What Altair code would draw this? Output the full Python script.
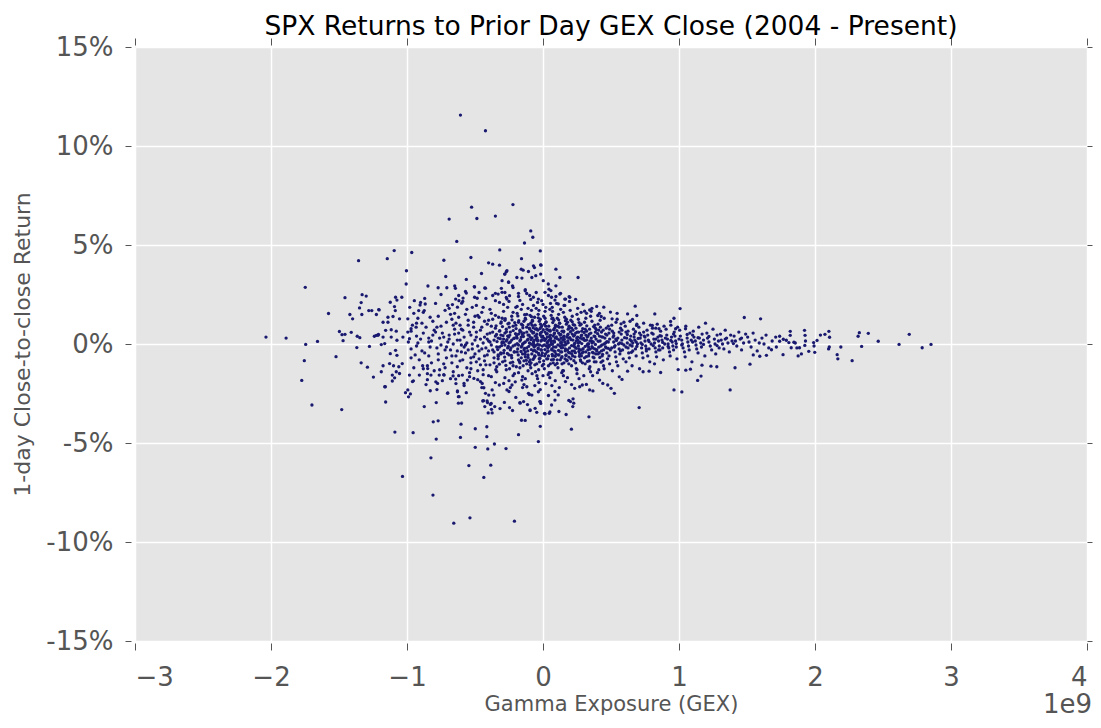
import altair as alt
import pandas as pd

# GEX in billions (axis shows 1e9 multiplier), return in percent
tail_upper = [
    (-0.607, 11.56), (-0.423, 10.77), (-0.525, 6.91), (-0.221, 7.04), (-0.69, 6.31), (-0.486, 6.34),
    (-0.35, 6.46), (-0.09, 5.71), (-0.075, 5.39), (-0.136, 5.10), (-0.634, 5.18), (-0.02, 4.70),
    (-0.318, 4.75), (-1.094, 4.72), (-0.965, 4.62), (-1.356, 4.21), (-1.145, 4.31), (-0.729, 4.23),
    (-0.53, 4.37), (-0.158, 4.31), (-0.40, 4.10), (-0.37, 4.03), (-0.32, 3.98), (-0.015, 3.98),
    (-0.07, 3.95), (-1.004, 3.70), (-1.006, 3.03), (-0.715, 3.41), (-0.564, 3.26), (-0.452, 3.56),
    (-0.27, 3.65), (-0.28, 3.53), (-0.846, 2.93), (-0.771, 2.84), (-0.707, 2.84), (-0.649, 2.93),
    (-0.644, 2.81), (-0.505, 2.90), (-0.428, 2.83), (-0.16, 3.78), (-0.146, 3.73), (-0.282, 3.53),
    (-0.265, 3.70), (-0.253, 3.14), (-0.192, 3.36), (-0.155, 3.33), (-0.224, 2.94), (-0.306, 2.81),
    (-0.35, 2.56), (-0.301, 2.61), (-0.503, 2.88), (-0.423, 2.82), (-0.564, 2.57), (-0.588, 2.32),
    (-0.503, 2.36), (-0.484, 2.31), (-0.642, 2.27), (-0.618, 2.19), (-0.598, 2.06), (-0.666, 1.99),
    (-0.629, 1.86), (-0.946, 2.19), (-0.904, 1.97), (-0.866, 2.02), (-0.914, 1.69), (-0.873, 1.69),
    (-0.107, 3.66), (-0.063, 3.86), (0.002, 3.20), (-0.053, 3.45), (-0.082, 3.36), (-0.301, 3.20),
    (-0.253, 3.11), (-0.33, 2.52), (-0.246, 2.44), (-0.35, 2.19), (-0.265, 2.27), (-0.18, 2.56),
    (-0.131, 2.69), (-0.071, 2.36), (-0.034, 2.27), (0.015, 2.61), (0.063, 2.36), (0.124, 2.52),
    (0.166, 2.27), (0.197, 2.36), (0.112, 2.02), (-0.01, 2.19), (-0.017, 3.53), (-0.017, 4.0),
    (0.095, 3.78), (0.124, 3.36), (0.258, 3.36), (0.039, 3.03), (0.044, 2.77), (0.095, 2.94),
    (0.129, 2.56), (0.192, 2.39), (0.16, 2.27), (0.088, 2.22), (0.447, 1.86), (0.678, 1.91),
    (0.496, 1.61), (0.622, 1.52), (0.69, 1.44), (0.822, 1.52), (0.963, 1.30), (0.938, 1.14),
    (0.343, 1.72), (0.306, 1.66), (0.403, 1.44), (0.428, 1.39), (0.658, 1.24), (0.688, 0.94),
    (0.804, 0.94), (0.829, 0.80), (0.853, 0.77), (0.508, 1.27), (0.537, 1.10), (0.574, 1.02),
    (0.975, 0.77), (1.048, 0.77),
    (-0.28, 2.6), (-0.25, 2.15), (-0.22, 2.85), (-0.2, 1.85), (-0.18, 2.4), (-0.15, 2.0), (-0.13, 2.75),
    (-0.11, 1.8), (-0.09, 2.25), (-0.07, 1.95), (-0.05, 2.6), (-0.03, 1.7), (0.0, 2.0), (0.02, 1.85),
    (0.04, 2.45), (0.07, 1.65), (0.1, 2.05), (0.13, 1.75), (0.16, 1.95), (0.2, 1.7), (0.24, 2.25),
    (0.28, 1.6), (0.32, 1.55), (0.36, 1.8),
]

tail_left = [
    (-1.748, 2.86), (-1.456, 2.34), (-1.33, 2.49), (-1.30, 2.42), (-1.337, 2.09), (-1.349, 1.82),
    (-1.332, 1.49), (-1.577, 1.54), (-1.42, 1.49), (-1.40, 1.27), (-1.281, 1.69), (-1.259, 1.69),
    (-1.208, 1.74), (-1.225, 1.49), (-2.037, 0.35), (-1.889, 0.30), (-1.745, -0.02), (-1.658, 0.13),
    (-1.497, 0.63), (-1.478, 0.47), (-1.456, 0.49), (-1.41, 0.59), (-1.366, 0.39), (-1.347, 0.32),
    (-1.24, 0.39), (-1.225, 0.44), (-1.21, 0.49), (-1.47, 0.17), (-1.369, -0.18), (-1.276, -0.12),
    (-1.755, -0.84), (-1.522, -0.64), (-1.337, -0.95), (-1.291, -1.17), (-1.247, -1.67),
    (-1.774, -1.84), (-1.699, -3.08), (-1.48, -3.31), (-1.159, -2.16), (-1.157, -2.93),
    (-1.084, 2.36), (-1.038, 2.36), (-1.074, 2.22), (-1.123, 2.11), (-1.092, 1.89), (-1.086, 1.69),
    (-1.205, 1.72), (-1.14, 1.35), (-1.103, 1.39), (-1.055, 1.27), (-0.994, 1.27), (-1.176, 1.10),
    (-1.14, 1.10), (-0.97, 0.77), (-0.933, 0.85), (-0.994, 0.60), (-1.157, 0.69), (-1.116, 0.72),
    (-1.079, 0.65), (-1.213, 0.44), (-1.176, 0.35), (-1.116, 0.35), (-1.074, 0.19), (-1.03, 0.35),
    (-0.982, 0.27), (-1.164, 0.02), (-1.189, -0.03), (-1.123, -0.49), (-1.084, -0.32), (-1.074, -0.57),
    (-1.176, -1.10), (-1.128, -0.99), (-1.189, -1.40), (-1.099, -1.10), (-1.06, -1.15), (-1.035, -0.99),
    (-1.108, -1.57), (-1.091, -1.71), (-1.055, -1.49), (-1.079, -1.40), (-1.108, -1.87), (-1.164, -2.16),
]

tail_lower = [
    (-1.089, -4.45), (-0.955, -4.48), (-1.033, -6.69), (-0.824, -5.75), (-0.809, -7.63), (-0.656, -9.05),
    (-0.537, -8.78), (-0.21, -8.95), (-0.545, -6.14), (-0.384, -6.12), (-0.435, -6.74), (-0.498, -5.22),
    (-0.357, -5.05), (-0.406, -5.30), (-0.272, -5.28), (-0.785, -4.80), (-0.607, -4.72), (-0.413, -4.68),
    (-0.034, -4.93), (-0.18, -4.58), (-0.603, -4.05), (-0.498, -4.28), (-0.413, -4.18), (-0.807, -3.93),
    (-0.771, -3.88), (-0.02, -4.16), (-0.158, -3.85), (-0.131, -3.86), (0.209, -4.30), (0.17, -3.56),
    (-0.873, -3.16), (-0.785, -2.96), (-0.989, -2.67), (-0.975, -2.52), (-0.994, -2.32), (-1.011, -2.46),
    (-0.829, -2.36), (-0.70, -2.47), (-0.629, -2.37), (-0.564, -2.46), (-0.617, -2.66), (-0.622, -2.99),
    (-0.598, -2.98), (-0.4375, -2.86), (-0.428, -3.16), (-0.408, -2.96), (-0.381, -3.00), (-0.355, -3.16),
    (-0.379, -3.30), (-0.403, -3.48), (-0.374, -3.48), (-0.316, -3.26), (-0.284, -2.95), (-0.246, -3.21),
    (-0.224, -3.36), (-0.17, -2.96), (-0.114, -3.06), (-0.095, -3.36), (-0.046, -3.45), (-0.017, -3.00),
    (0.015, -3.53), (0.051, -3.43), (0.117, -3.41), (0.19, -2.85), (0.219, -3.16),
    (0.707, -3.21), (0.338, -3.68), (0.525, -2.49), (0.50, -2.24), (0.476, -2.07), (0.367, -2.37),
    (0.343, -2.32), (0.226, -2.99), (0.221, -2.77), (0.202, -2.91), (0.046, -3.50), (0.012, -3.50),
    (0.063, -3.08), (0.088, -2.83), (0.112, -2.57), (-0.022, -2.91), (0.865, -1.44), (0.78, -1.37),
    (0.736, -1.40), (0.622, -1.37), (0.581, -1.79), (0.561, -1.66), (0.416, -1.82), (0.44, -1.99),
    (0.289, -2.07), (0.27, -2.16), (0.319, -2.04), (0.233, -2.24),
    (-0.982, -1.57), (-0.953, -1.86), (-0.909, -1.57), (-0.885, -1.10), (-0.848, -1.24), (-0.824, -1.57),
    (-0.763, -1.57), (-0.775, -1.99), (-0.788, -1.91), (-0.702, -2.49), (-0.629, -2.41), (-0.622, -2.66),
    (-0.727, -1.57), (-0.661, -1.61), (-0.593, -1.57), (-0.556, -1.82), (-0.581, -1.99), (-0.642, -1.77),
    (-0.508, -1.74), (-0.447, -1.99), (-0.435, -2.21), (-0.423, -2.49), (-0.399, -2.58), (-0.374, -2.32),
    (-0.362, -2.58), (-0.411, -2.88), (-0.387, -3.05), (-0.443, -2.88), (-0.321, -2.07), (-0.289, -1.99),
    (-0.265, -2.32), (-0.228, -2.07), (-0.204, -1.91), (-0.155, -1.82), (-0.119, -2.16), (-0.107, -2.49),
    (-0.082, -2.58), (-0.034, -2.41), (-0.022, -2.91), (-0.168, -2.99), (-0.143, -2.91), (-0.095, -3.33),
    (-0.058, -3.25),
    (-0.28, -1.7), (-0.25, -2.4), (-0.22, -1.6), (-0.2, -2.7), (-0.18, -1.45), (-0.15, -2.2),
    (-0.13, -1.75), (-0.1, -2.55), (-0.08, -1.5), (-0.06, -2.1), (-0.04, -1.75), (-0.02, -2.3),
    (0.0, -1.6), (0.02, -2.0), (0.04, -2.6), (0.06, -1.45), (0.09, -1.85), (0.12, -2.2), (0.15, -1.35),
    (0.18, -1.7), (0.21, -2.05), (0.25, -1.3), (0.3, -1.6), (0.34, -1.25), (0.4, -1.45), (0.45, -1.25),
]

tail_right = [
    (1.48, 1.34), (1.60, 1.27), (1.008, 1.79), (1.818, 0.64), (1.818, 0.44), (1.923, 0.69), (1.927, 0.44),
    (1.93, 0.15), (1.925, -0.07), (1.99, 0.07), (1.993, -0.10), (2.015, 0.18), (2.04, 0.45), (2.073, 0.49),
    (2.102, 0.64), (2.107, 0.34), (2.105, -0.15), (2.10, -0.25), (2.19, -0.15), (2.163, -0.54),
    (2.168, -0.75), (2.273, -0.84), (2.317, 0.39), (2.326, 0.57), (2.392, 0.54), (2.343, -0.12),
    (2.465, 0.14), (2.618, -0.02), (2.693, 0.49), (2.788, -0.19), (2.853, -0.02), (1.998, -0.42),
    (1.954, -0.37), (1.90, -0.50), (1.876, -0.60), (1.767, 0.24), (1.765, -0.54), (1.789, 0.19),
    (1.825, -0.19), (1.855, 0.05), (1.867, -0.20), (1.886, -0.19), (1.845, 0.09), (1.808, 0.07),
    (1.74, 0.14), (1.716, -0.15), (1.68, -0.29), (1.711, 0.35), (1.74, 0.39), (1.643, -0.57),
    (1.594, -0.62), (1.546, -0.55), (1.522, -1.02), (1.412, -1.20), (1.376, -2.32), (1.162, -1.62),
    (1.137, -1.84), (1.021, -2.42), (0.963, -2.32), (1.084, -1.27), (1.05, -1.32), (0.994, -1.29),
    (1.278, -1.15), (1.235, -1.12), (1.169, -1.07),
]

core_left = [
    (-0.98, 1.85), (-0.96, 0.95), (-0.93, 0.4), (-0.97, -0.25), (-0.91, -0.8), (-0.95, -1.2), (-0.92, 1.3),
    (-0.99, 0.1), (-0.94, -0.55), (-0.9, 2.1), (-0.96, -1.9), (-0.92, 0.05), (-0.97, 0.65), (-0.93, -0.1),
    (-0.88, 1.6), (-0.86, 0.85), (-0.84, 0.3), (-0.89, -0.35), (-0.82, -0.95), (-0.85, -1.5), (-0.87, 2.3),
    (-0.81, 1.15), (-0.83, -0.15), (-0.88, 0.55), (-0.86, -2.05), (-0.8, 0.7), (-0.84, -0.6), (-0.89, 1.05),
    (-0.82, 0.15), (-0.85, -1.1),
    (-0.79, 2.05), (-0.77, 1.4), (-0.75, 0.9), (-0.73, 0.35), (-0.78, -0.2), (-0.71, -0.7), (-0.76, -1.3),
    (-0.74, -1.85), (-0.72, 1.7), (-0.79, 0.6), (-0.7, 0.1), (-0.77, -0.5), (-0.73, -1.0), (-0.75, 2.5),
    (-0.71, 1.1), (-0.78, -2.3), (-0.72, -0.3), (-0.76, 0.3),
    (-0.69, 1.8), (-0.67, 1.25), (-0.65, 0.75), (-0.63, 0.2), (-0.68, -0.3), (-0.61, -0.85), (-0.66, -1.4),
    (-0.64, -2.0), (-0.62, 2.45), (-0.69, 0.45), (-0.6, -0.05), (-0.67, -0.6), (-0.63, -1.15), (-0.65, 1.55),
    (-0.61, 0.95), (-0.68, -1.75), (-0.62, 0.55), (-0.66, 0.0), (-0.64, 1.05), (-0.6, -0.4),
    (-0.59, 2.15), (-0.57, 1.5), (-0.55, 0.95), (-0.53, 0.45), (-0.58, -0.15), (-0.51, -0.65), (-0.56, -1.2),
    (-0.54, -1.65), (-0.52, 1.85), (-0.59, 0.7), (-0.5, 0.2), (-0.57, -0.45), (-0.53, -0.95), (-0.55, 1.2),
    (-0.51, 0.85), (-0.58, -2.1), (-0.52, -0.25), (-0.56, 0.05), (-0.54, -1.45), (-0.5, 1.4), (-0.57, 2.65),
    (-0.53, -0.7),
    (-0.49, 1.95), (-0.47, 1.35), (-0.45, 0.85), (-0.43, 0.35), (-0.48, -0.1), (-0.41, -0.55), (-0.46, -1.05),
    (-0.44, -1.55), (-0.42, 2.3), (-0.49, 0.6), (-0.4, 0.15), (-0.47, -0.35), (-0.43, -0.85), (-0.45, 1.6),
    (-0.41, 1.0), (-0.48, -1.8), (-0.42, -0.2), (-0.46, 0.25), (-0.44, -1.3), (-0.4, 1.2), (-0.47, 2.6),
    (-0.43, -0.6), (-0.49, -0.9), (-0.41, 0.5), (-0.45, -2.2),
    (-0.39, 1.75), (-0.37, 1.25), (-0.35, 0.8), (-0.33, 0.3), (-0.38, -0.05), (-0.31, -0.5), (-0.36, -0.95),
    (-0.34, -1.4), (-0.32, 2.1), (-0.39, 0.55), (-0.3, 0.1), (-0.37, -0.3), (-0.33, -0.75), (-0.35, 1.45),
    (-0.31, 1.05), (-0.38, -1.65), (-0.32, -0.15), (-0.36, 0.2), (-0.34, -1.15), (-0.3, 1.3), (-0.37, 2.45),
    (-0.33, -0.55), (-0.39, -1.05), (-0.31, 0.45), (-0.35, -1.95), (-0.38, 0.9), (-0.32, 0.65), (-0.36, -0.4),
    (-0.95, 1.55), (-0.9, 0.25), (-0.87, -0.45), (-0.83, 1.35), (-0.8, -1.35), (-0.78, 0.85), (-0.75, -0.05),
    (-0.73, -1.55), (-0.7, 1.95), (-0.69, 0.25), (-0.67, -0.95), (-0.65, 0.5), (-0.63, -0.35), (-0.62, 1.35),
    (-0.6, 0.75), (-0.59, -0.8), (-0.58, 0.35), (-0.56, 1.75), (-0.55, -0.3), (-0.54, 0.6), (-0.53, -1.25),
    (-0.52, 0.0), (-0.51, 1.1), (-0.5, -0.5), (-0.49, 0.35), (-0.48, 1.45), (-0.47, -0.75), (-0.46, 0.7),
    (-0.45, -0.25), (-0.44, 0.05), (-0.43, 1.15), (-0.42, -1.05), (-0.41, 0.25), (-0.4, -0.35), (-0.39, 0.1),
    (-0.38, 1.55), (-0.37, 0.6), (-0.36, -0.7), (-0.35, 0.4), (-0.34, -0.15), (-0.97, -0.7), (-0.93, 1.05),
    (-0.88, -1.25), (-0.84, 0.1), (-0.81, 0.45), (-0.77, -0.8), (-0.74, 0.55), (-0.71, -0.15), (-0.66, 0.95),
    (-0.64, -0.6), (-0.61, 0.2), (-0.57, -0.05), (-0.48, -1.35), (-0.44, 1.85), (-0.4, -1.6), (-0.46, -1.9),
    (-0.62, -1.6), (-0.72, -1.2), (-0.85, -1.8), (-0.68, 1.5),
]

core_mid = [
    (-0.29, 1.65), (-0.28, 1.2), (-0.27, 0.75), (-0.26, 0.4), (-0.25, 0.05), (-0.24, -0.3), (-0.23, -0.7),
    (-0.22, -1.1), (-0.21, -1.5), (-0.29, 2.0), (-0.28, 0.55), (-0.27, 0.15), (-0.26, -0.2), (-0.25, -0.55),
    (-0.24, -0.95), (-0.23, 1.4), (-0.22, 0.9), (-0.21, 0.3), (-0.29, -0.45), (-0.28, -0.85), (-0.27, -1.3),
    (-0.26, 1.85), (-0.25, 1.05), (-0.24, 0.6), (-0.23, 0.2), (-0.22, -0.1), (-0.21, -0.4), (-0.2, 0.95),
    (-0.29, 0.25), (-0.25, -1.85), (-0.27, 2.35), (-0.22, 1.6), (-0.24, -2.2), (-0.28, -0.05),
    (-0.19, 1.55), (-0.18, 1.1), (-0.17, 0.7), (-0.16, 0.35), (-0.15, 0.0), (-0.14, -0.3), (-0.13, -0.65),
    (-0.12, -1.0), (-0.11, -1.35), (-0.19, 1.9), (-0.18, 0.5), (-0.17, 0.15), (-0.16, -0.15), (-0.15, -0.5),
    (-0.14, -0.85), (-0.13, 1.3), (-0.12, 0.85), (-0.11, 0.25), (-0.19, -0.4), (-0.18, -0.8), (-0.17, -1.2),
    (-0.16, 1.75), (-0.15, 0.95), (-0.14, 0.55), (-0.13, 0.1), (-0.12, -0.2), (-0.11, -0.55), (-0.1, 0.8),
    (-0.19, 0.3), (-0.15, -1.65), (-0.17, 2.2), (-0.12, 1.5), (-0.14, -2.05), (-0.18, -0.05), (-0.11, 0.45),
    (-0.13, -0.4), (-0.16, 0.6), (-0.1, -0.9), (-0.12, 2.55), (-0.17, -0.95), (-0.14, 1.15), (-0.1, 0.05),
    (-0.095, 1.45), (-0.09, 1.05), (-0.085, 0.65), (-0.08, 0.3), (-0.075, -0.05), (-0.07, -0.35),
    (-0.065, -0.7), (-0.06, -1.05), (-0.055, -1.4), (-0.05, 1.8), (-0.045, 0.5), (-0.04, 0.15),
    (-0.035, -0.2), (-0.03, -0.55), (-0.025, -0.9), (-0.02, 1.25), (-0.015, 0.85), (-0.01, 0.35),
    (-0.005, -0.45), (-0.095, -0.8), (-0.09, -1.2), (-0.085, 1.7), (-0.08, 0.95), (-0.075, 0.55),
    (-0.07, 0.1), (-0.065, -0.15), (-0.06, -0.6), (-0.055, 0.75), (-0.05, 0.25), (-0.045, -1.6),
    (-0.04, 2.1), (-0.035, 1.5), (-0.03, -1.95), (-0.025, -0.05), (-0.02, 0.45), (-0.015, -0.3),
    (-0.01, 0.6), (-0.005, -1.1), (-0.098, 2.45), (-0.088, -0.95), (-0.078, 1.15), (-0.068, 0.0),
    (-0.058, 0.4), (-0.048, -0.4), (-0.038, 0.7), (-0.028, -0.75), (-0.018, 1.0), (-0.008, 0.2),
    (-0.062, 1.35), (-0.032, -1.3),
    (0.005, 1.4), (0.01, 1.0), (0.015, 0.6), (0.02, 0.25), (0.025, -0.1), (0.03, -0.4), (0.035, -0.75),
    (0.04, -1.1), (0.045, -1.45), (0.05, 1.75), (0.055, 0.45), (0.06, 0.1), (0.065, -0.25), (0.07, -0.6),
    (0.075, -0.95), (0.08, 1.2), (0.085, 0.8), (0.09, 0.3), (0.095, -0.5), (0.005, -0.85), (0.01, -1.25),
    (0.015, 1.65), (0.02, 0.9), (0.025, 0.5), (0.03, 0.05), (0.035, -0.2), (0.04, 0.7), (0.045, 0.2),
    (0.05, -1.7), (0.055, 2.05), (0.06, 1.45), (0.065, -2.1), (0.07, 0.0), (0.075, 0.4), (0.08, -0.35),
    (0.085, 0.55), (0.09, -1.05), (0.095, 2.4), (0.012, -0.6), (0.022, 1.1), (0.032, 0.35), (0.042, -0.05),
    (0.052, 0.65), (0.062, -0.8), (0.072, 1.3), (0.082, 0.15), (0.092, 0.95), (0.038, -1.55), (0.068, 1.85),
    (0.078, -0.15), (0.088, -2.4), (0.058, 2.7),
    (0.105, 1.3), (0.11, 0.9), (0.115, 0.55), (0.12, 0.2), (0.125, -0.1), (0.13, -0.4), (0.135, -0.7),
    (0.14, -1.0), (0.145, -1.35), (0.15, 1.6), (0.155, 0.4), (0.16, 0.1), (0.165, -0.25), (0.17, -0.55),
    (0.175, -0.85), (0.18, 1.1), (0.185, 0.75), (0.19, 0.3), (0.195, -0.45), (0.105, -0.8), (0.11, -1.2),
    (0.115, 1.5), (0.12, 0.85), (0.125, 0.45), (0.13, 0.05), (0.135, -0.2), (0.14, 0.65), (0.145, 0.2),
    (0.15, -1.6), (0.155, 1.95), (0.16, 1.35), (0.165, -1.9), (0.17, 0.0), (0.175, 0.35), (0.18, -0.3),
    (0.185, 0.5), (0.19, -1.0), (0.195, 2.15), (0.112, -0.55), (0.122, 1.05), (0.132, 0.3), (0.142, -0.05),
    (0.152, 0.6), (0.162, -0.75), (0.172, 1.25), (0.182, 0.15), (0.192, 0.9), (0.138, -1.45),
]

core_dense = [
    (-0.345, 0.92), (-0.342, 0.48), (-0.338, 0.12), (-0.333, -0.28), (-0.329, -0.62), (-0.326, 1.35),
    (-0.321, -1.02), (-0.318, 0.68), (-0.314, 0.27), (-0.311, -0.45), (-0.307, 1.12), (-0.304, -0.08),
    (-0.302, 0.05), (-0.347, -1.3),
    (-0.298, 0.88), (-0.294, 0.42), (-0.29, 0.08), (-0.286, -0.32), (-0.282, -0.66), (-0.278, 1.28),
    (-0.273, -1.08), (-0.269, 0.62), (-0.265, 0.22), (-0.262, -0.48), (-0.258, 1.02), (-0.255, -0.12),
    (-0.252, 0.35), (-0.297, -0.9),
    (-0.248, 0.85), (-0.244, 0.45), (-0.24, 0.1), (-0.236, -0.2), (-0.232, -0.58), (-0.228, 1.22),
    (-0.223, -0.92), (-0.219, 0.68), (-0.215, 0.28), (-0.212, -0.4), (-0.208, 1.08), (-0.205, -0.05),
    (-0.202, 0.52), (-0.246, -1.25),
    (-0.198, 0.78), (-0.194, 0.4), (-0.19, 0.02), (-0.186, -0.25), (-0.182, -0.55), (-0.178, 1.18),
    (-0.173, -0.88), (-0.169, 0.62), (-0.165, 0.22), (-0.162, -0.38), (-0.158, 1.0), (-0.155, -0.1),
    (-0.152, 0.48), (-0.196, -1.15), (-0.185, 1.42), (-0.16, -0.7),
    (-0.148, 0.82), (-0.144, 0.38), (-0.14, 0.05), (-0.136, -0.22), (-0.132, -0.52), (-0.128, 1.25),
    (-0.123, -0.82), (-0.119, 0.6), (-0.115, 0.2), (-0.112, -0.35), (-0.108, 0.98), (-0.105, -0.12),
    (-0.102, 0.45), (-0.146, -1.1), (-0.135, 1.48), (-0.11, -0.68),
    (-0.098, 0.75), (-0.094, 0.35), (-0.09, 0.0), (-0.086, -0.28), (-0.082, -0.5), (-0.078, 1.2),
    (-0.073, -0.78), (-0.069, 0.58), (-0.065, 0.18), (-0.062, -0.32), (-0.058, 0.95), (-0.055, -0.08),
    (-0.052, 0.42), (-0.096, -1.05), (-0.085, 1.38), (-0.06, -0.62), (-0.072, 0.82), (-0.088, 0.22),
    (-0.048, 0.78), (-0.044, 0.32), (-0.04, -0.02), (-0.036, -0.25), (-0.032, -0.48), (-0.028, 1.15),
    (-0.023, -0.72), (-0.019, 0.55), (-0.015, 0.15), (-0.012, -0.3), (-0.008, 0.92), (-0.005, -0.1),
    (-0.002, 0.4), (-0.046, -1.0), (-0.035, 1.32), (-0.01, -0.58), (-0.022, 0.78), (-0.038, 0.2),
    (0.002, 0.72), (0.006, 0.3), (0.01, -0.05), (0.014, -0.28), (0.018, -0.5), (0.022, 1.12),
    (0.027, -0.75), (0.031, 0.52), (0.035, 0.12), (0.038, -0.35), (0.042, 0.9), (0.045, -0.12),
    (0.048, 0.38), (0.004, -1.02), (0.015, 1.3), (0.04, -0.6), (0.028, 0.75), (0.012, 0.18),
    (0.052, 0.7), (0.056, 0.28), (0.06, -0.02), (0.064, -0.3), (0.068, -0.52), (0.072, 1.08),
    (0.077, -0.78), (0.081, 0.5), (0.085, 0.1), (0.088, -0.38), (0.092, 0.88), (0.095, -0.15),
    (0.098, 0.36), (0.054, -1.0), (0.065, 1.28), (0.09, -0.62), (0.078, 0.72), (0.062, 0.16),
    (0.102, 0.68), (0.106, 0.26), (0.11, -0.04), (0.114, -0.32), (0.118, -0.55), (0.122, 1.05),
    (0.127, -0.8), (0.131, 0.48), (0.135, 0.08), (0.138, -0.4), (0.142, 0.85), (0.145, -0.18),
    (0.148, 0.34), (0.104, -0.98), (0.115, 1.22), (0.14, -0.64),
    (0.152, 0.65), (0.156, 0.24), (0.16, -0.06), (0.164, -0.34), (0.168, -0.58), (0.172, 1.0),
    (0.177, -0.82), (0.181, 0.46), (0.185, 0.06), (0.188, -0.42), (0.192, 0.82), (0.195, -0.2),
    (0.198, 0.32), (0.154, -0.95), (0.165, 1.18), (0.19, -0.66),
    (0.202, 0.62), (0.206, 0.22), (0.21, -0.08), (0.214, -0.36), (0.218, -0.6), (0.222, 0.98),
    (0.227, -0.84), (0.231, 0.44), (0.235, 0.04), (0.238, -0.44), (0.242, 0.8), (0.245, -0.22),
    (0.248, 0.3), (0.215, 1.12),
    (0.252, 0.6), (0.256, 0.2), (0.26, -0.1), (0.264, -0.38), (0.268, -0.62), (0.272, 0.95),
    (0.277, -0.86), (0.281, 0.42), (0.285, 0.02), (0.288, -0.46), (0.292, 0.78), (0.295, -0.24),
    (0.298, 0.28), (0.265, 1.08),
    (0.302, 0.58), (0.306, 0.18), (0.31, -0.12), (0.314, -0.4), (0.318, -0.64), (0.322, 0.92),
    (0.327, -0.88), (0.331, 0.4), (0.335, 0.0), (0.338, -0.48), (0.342, 0.75), (0.345, -0.26),
    (0.352, 0.55), (0.356, 0.16), (0.36, -0.14), (0.364, -0.42), (0.368, -0.66), (0.372, 0.88),
    (0.377, -0.9), (0.381, 0.38), (0.385, -0.02), (0.388, -0.5), (0.392, 0.72), (0.395, -0.28),
    (0.402, 0.52), (0.406, 0.14), (0.41, -0.16), (0.414, -0.44), (0.418, -0.68), (0.422, 0.85),
    (0.427, -0.92), (0.431, 0.36), (0.435, -0.04), (0.438, -0.52), (0.442, 0.7), (0.445, -0.3),
    (0.46, 0.5), (0.47, 0.12), (0.48, -0.22), (0.49, 0.75), (0.52, 0.42), (0.53, -0.08), (0.54, 0.18),
    (0.56, 0.6), (0.57, -0.35), (0.58, 0.02), (0.6, 0.32), (0.61, -0.15), (0.62, 0.48), (0.64, 0.22),
    (0.65, -0.42), (0.66, 0.05), (0.68, 0.62), (0.69, -0.12), (0.7, 0.28), (0.72, 0.45), (0.73, -0.02),
    (0.75, 0.35), (0.76, -0.25), (0.78, 0.12), (0.8, 0.55), (0.81, -0.08), (0.83, 0.25), (0.85, -0.3),
    (0.86, 0.42), (0.88, 0.08), (0.9, 0.3), (0.92, -0.12), (0.94, 0.18), (0.96, 0.5), (0.98, 0.02),
    (1.0, 0.25), (1.02, -0.05), (1.06, 0.48), (1.1, 0.1), (1.14, 0.32), (1.18, -0.02), (1.22, 0.38),
    (1.28, -0.08), (1.34, 0.25), (1.4, 0.02), (1.46, 0.3),
]

core_right = [
    (0.205, 1.2), (0.21, 0.8), (0.215, 0.5), (0.22, 0.2), (0.225, -0.1), (0.23, -0.35), (0.235, -0.65),
    (0.24, -0.95), (0.245, -1.25), (0.25, 1.5), (0.255, 0.35), (0.26, 0.05), (0.265, -0.25), (0.27, -0.5),
    (0.275, -0.8), (0.28, 1.0), (0.285, 0.65), (0.29, 0.25), (0.295, -0.4), (0.205, -0.75), (0.21, -1.1),
    (0.215, 1.4), (0.22, 0.7), (0.225, 0.4), (0.23, 0.0), (0.235, -0.15), (0.24, 0.55), (0.245, 0.15),
    (0.25, -1.5), (0.255, 1.8), (0.26, 1.25), (0.265, -1.75), (0.27, 0.1), (0.275, 0.3), (0.28, -0.3),
    (0.285, 0.45), (0.29, -0.95), (0.295, 2.0), (0.212, -0.5), (0.232, 0.95), (0.262, 0.6), (0.282, -0.6),
    (0.305, 1.1), (0.31, 0.75), (0.315, 0.45), (0.32, 0.2), (0.325, -0.05), (0.33, -0.3), (0.335, -0.6),
    (0.34, -0.85), (0.345, -1.15), (0.35, 1.4), (0.355, 0.3), (0.36, 0.05), (0.365, -0.2), (0.37, -0.45),
    (0.375, -0.7), (0.38, 0.95), (0.385, 0.6), (0.39, 0.25), (0.395, -0.35), (0.305, -0.7), (0.31, -1.0),
    (0.315, 1.3), (0.32, 0.65), (0.325, 0.35), (0.33, 0.0), (0.335, -0.15), (0.34, 0.5), (0.345, 0.15),
    (0.35, -1.4), (0.355, 1.65), (0.36, 1.15), (0.365, -1.6), (0.37, 0.1), (0.375, 0.4), (0.38, -0.25),
    (0.385, 0.8), (0.39, -0.9), (0.395, 1.9),
    (0.405, 1.0), (0.41, 0.7), (0.415, 0.4), (0.42, 0.15), (0.425, -0.1), (0.43, -0.35), (0.435, -0.6),
    (0.44, -0.85), (0.445, -1.1), (0.45, 1.3), (0.455, 0.3), (0.46, 0.05), (0.465, -0.2), (0.47, -0.45),
    (0.475, -0.75), (0.48, 0.9), (0.485, 0.55), (0.49, 0.25), (0.495, -0.3), (0.405, -0.5), (0.41, -1.3),
    (0.42, 1.2), (0.43, 0.6), (0.44, 0.35), (0.45, 0.0), (0.46, -0.15), (0.47, 0.45), (0.48, 0.1),
    (0.49, -1.0), (0.415, 1.55), (0.465, 0.8), (0.485, -0.6),
    (0.505, 0.95), (0.51, 0.65), (0.515, 0.35), (0.52, 0.1), (0.525, -0.15), (0.53, -0.4), (0.535, -0.65),
    (0.54, -0.9), (0.545, 1.25), (0.55, 0.3), (0.555, 0.0), (0.56, -0.25), (0.565, -0.5), (0.57, 0.8),
    (0.575, 0.5), (0.58, 0.2), (0.585, -0.3), (0.59, -0.75), (0.595, 1.1), (0.505, -0.2), (0.52, 0.55),
    (0.535, 0.25), (0.55, -1.1), (0.565, 0.05), (0.58, 0.7), (0.595, -0.05), (0.51, -1.35), (0.545, 1.55),
    (0.605, 0.9), (0.61, 0.6), (0.615, 0.3), (0.62, 0.05), (0.625, -0.2), (0.63, -0.45), (0.635, -0.7),
    (0.64, 1.15), (0.645, 0.4), (0.65, 0.15), (0.655, -0.1), (0.66, -0.35), (0.665, 0.75), (0.67, 0.5),
    (0.675, 0.2), (0.68, -0.25), (0.685, -0.6), (0.69, 1.0), (0.695, 0.0), (0.61, -0.9), (0.625, 0.65),
    (0.64, -0.05), (0.655, -1.1), (0.67, 0.35), (0.685, 0.1),
    (0.705, 0.85), (0.71, 0.55), (0.715, 0.3), (0.72, 0.05), (0.725, -0.2), (0.73, -0.45), (0.735, -0.7),
    (0.74, 1.05), (0.745, 0.4), (0.75, 0.15), (0.755, -0.1), (0.76, -0.35), (0.765, 0.7), (0.77, 0.45),
    (0.775, 0.2), (0.78, -0.25), (0.785, -0.9), (0.79, 0.95), (0.795, 0.0), (0.71, -1.25), (0.74, 0.6),
    (0.77, -0.6),
    (0.805, 0.8), (0.81, 0.5), (0.815, 0.25), (0.82, 0.05), (0.825, -0.2), (0.83, -0.4), (0.835, -0.65),
    (0.84, 1.0), (0.845, 0.35), (0.85, 0.15), (0.855, -0.1), (0.86, -0.3), (0.865, 0.65), (0.87, 0.4),
    (0.875, 0.2), (0.88, -0.2), (0.885, -0.8), (0.89, 0.9), (0.895, 0.0), (0.82, -1.0),
    (0.905, 0.75), (0.91, 0.45), (0.915, 0.25), (0.92, 0.0), (0.925, -0.2), (0.93, -0.4), (0.935, -0.6),
    (0.94, 0.95), (0.945, 0.35), (0.95, 0.1), (0.955, -0.1), (0.96, -0.3), (0.965, 0.6), (0.97, 0.4),
    (0.975, 0.15), (0.98, -0.15), (0.985, -0.75), (0.99, 0.85),
]

core_far = [
    (1.005, 0.7), (1.01, 0.4), (1.02, 0.2), (1.025, 0.0), (1.03, -0.2), (1.04, -0.4), (1.045, -0.65),
    (1.05, 0.9), (1.06, 0.3), (1.065, 0.1), (1.07, -0.1), (1.075, -0.3), (1.08, 0.55), (1.09, 0.2),
    (1.095, -0.9), (1.1, 0.45),
    (1.105, 0.65), (1.11, 0.35), (1.12, 0.15), (1.125, -0.05), (1.13, -0.25), (1.14, -0.45), (1.145, 0.85),
    (1.15, 0.3), (1.16, 0.05), (1.165, -0.15), (1.17, 0.5), (1.18, 0.2), (1.19, -0.6), (1.195, 1.05),
    (1.205, 0.55), (1.21, 0.3), (1.22, 0.1), (1.23, -0.1), (1.24, -0.3), (1.25, 0.75), (1.26, 0.25),
    (1.265, 0.0), (1.27, -0.5), (1.28, 0.45), (1.29, 0.15), (1.295, -0.2),
    (1.305, 0.5), (1.31, 0.2), (1.32, 0.0), (1.33, -0.25), (1.34, 0.7), (1.35, 0.3), (1.36, 0.05),
    (1.37, -0.4), (1.38, 0.45), (1.39, 0.15),
    (1.405, 0.4), (1.415, 0.15), (1.425, -0.1), (1.44, 0.6), (1.45, 0.25), (1.46, -0.3), (1.475, 0.05),
    (1.49, 0.5), (1.505, 0.35), (1.515, 0.1), (1.53, -0.15), (1.545, 0.55), (1.56, 0.2), (1.575, -0.35),
    (1.59, 0.05), (1.61, 0.3), (1.625, 0.0), (1.64, 0.45), (1.66, -0.2), (1.685, 0.15),
]

x_ticks = [-3, -2, -1, 0, 1, 2, 3, 4]
y_ticks = [-15, -10, -5, 0, 5, 10, 15]

rows = []
for group in (tail_upper, tail_left, tail_lower, tail_right, core_left, core_mid, core_dense,
              core_right, core_far):
    for gx, r in group:
        rows.append({"gex": gx, "ret": r})
df = pd.DataFrame(rows)

FONT = "DejaVu Sans"
GRAY = "#555555"
DOT = "#191970"

PLOT_W = 952
PLOT_H = 594

xscale = alt.Scale(domain=[-3, 4], nice=False, zero=False)
yscale = alt.Scale(domain=[-15, 15], nice=False, zero=False)

base = alt.Chart(df)

points = base.mark_circle(size=11, color=DOT, opacity=1).encode(
    x=alt.X("gex:Q", scale=xscale, axis=alt.Axis(
        orient="bottom", values=x_ticks, grid=True, gridColor="white", gridWidth=1.5,
        domain=False, tickColor=GRAY, tickSize=7, tickWidth=1, offset=2,
        labelFont=FONT, labelFontSize=26, labelColor=GRAY, labelPadding=14,
        labelExpr="(datum.value < 0 ? '\u2212' : '') + abs(datum.value)",
        title="Gamma Exposure (GEX)", titleFont=FONT, titleFontSize=21, titleColor=GRAY,
        titleFontWeight="normal", titlePadding=3)),
    y=alt.Y("ret:Q", scale=yscale, axis=alt.Axis(
        orient="left", values=y_ticks, grid=True, gridColor="white", gridWidth=1.5,
        domain=False, tickColor=GRAY, tickSize=6, tickWidth=1, offset=4,
        labelFont=FONT, labelFontSize=26, labelColor=GRAY, labelPadding=12,
        labelExpr="(datum.value < 0 ? '-' : '') + abs(datum.value) + '%'",
        title="1-day Close-to-close Return", titleFont=FONT, titleFontSize=22, titleColor=GRAY,
        titleFontWeight="normal", titlePadding=11)),
)

frame_ticks = base.mark_circle(size=1, opacity=0).encode(
    x=alt.X("gex:Q", scale=xscale, axis=alt.Axis(
        orient="top", values=x_ticks, grid=False, domain=False, labels=False, title=None,
        tickColor=GRAY, tickSize=7, offset=2)),
    y=alt.Y("ret:Q", scale=yscale, axis=alt.Axis(
        orient="right", values=y_ticks, grid=False, domain=False, labels=False, title=None,
        tickColor=GRAY, tickSize=5, offset=0)),
)

exp_label = alt.Chart(pd.DataFrame({"t": ["1e9"]})).mark_text(
    align="right", baseline="alphabetic", font=FONT, fontSize=26, color=GRAY
).encode(text="t:N", x=alt.value(PLOT_W + 5), y=alt.value(PLOT_H + 72))

chart = alt.layer(points, frame_ticks, exp_label).resolve_axis(
    x="independent", y="independent"
).properties(
    width=PLOT_W, height=PLOT_H,
    padding={"left": 127, "top": 39, "right": 6, "bottom": 79},
    autosize=alt.AutoSizeParams(type="none"),
    title=alt.TitleParams(
        "SPX Returns to Prior Day GEX Close (2004 - Present)",
        font=FONT, fontSize=26.5, fontWeight="normal", color="black", anchor="middle",
        offset=6, dy=12),
).configure_view(fill="#E5E5E5", stroke=None)

chart.save("out.html", embed_options={"renderer": "svg", "actions": False})
